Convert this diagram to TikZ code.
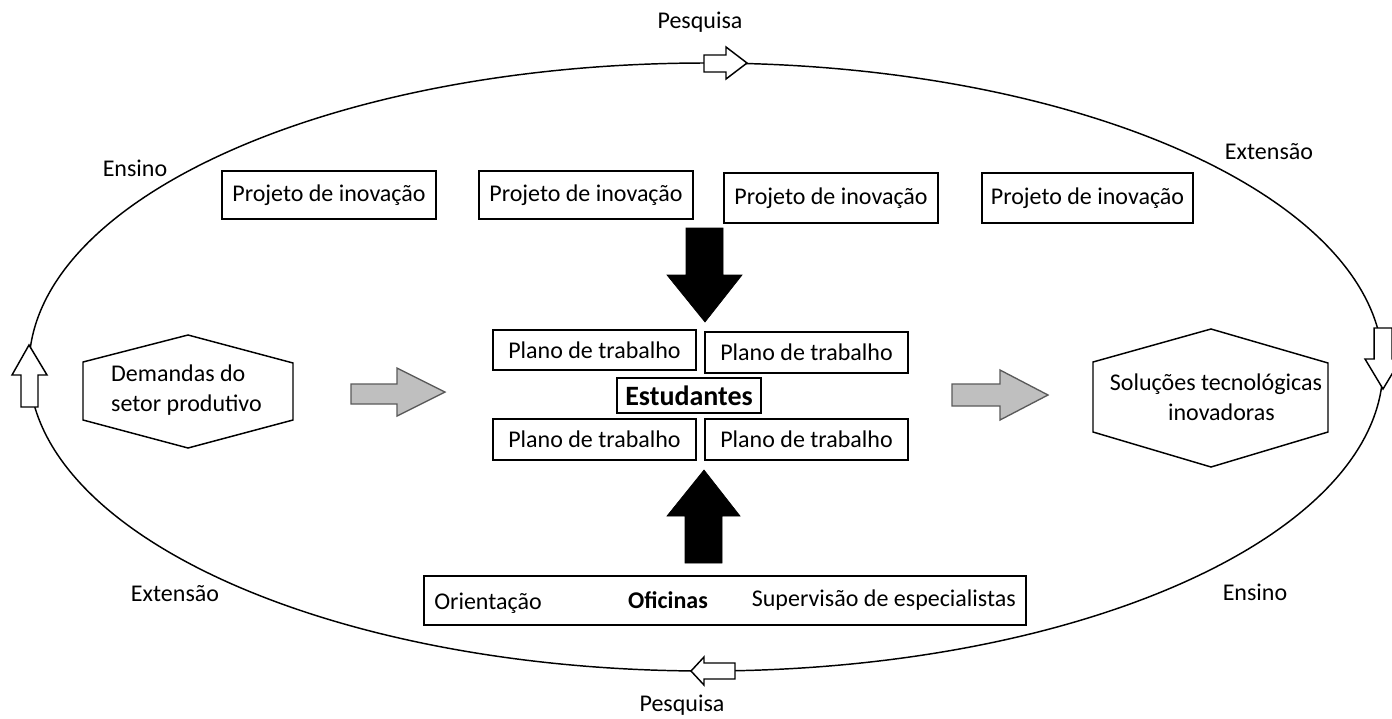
\documentclass[tikz,border=0pt]{standalone}
\usepackage{fontspec}
\setmainfont{Carlito}
\definecolor{greyfill}{RGB}{191,191,191}
\definecolor{greyline}{RGB}{90,90,90}
\begin{document}
\begin{tikzpicture}[x=0.75pt,y=-0.75pt,line join=miter,
  txt/.style={font=\fontsize{18}{22.5}\selectfont,inner sep=0pt},
  pbox/.style={draw,fill=white,line width=1.1pt,inner sep=0pt,font=\fontsize{18}{22.5}\selectfont},
  hollow/.style={draw,fill=white,line width=1.1pt},
  solid arrow/.style={fill=black,draw=black,line width=0.5pt},
  grey arrow/.style={fill=greyfill,draw=greyline,line width=1pt},
  hexa/.style={draw,line width=1.1pt}]
\clip (0,0) rectangle (1392,718);
\useasboundingbox (0,0) rectangle (1392,718);
\fill[white] (0,0) rectangle (1392,718);

% outer cycle
\draw[line width=1.1pt] (706,367) ellipse [x radius=677, y radius=304];

% hollow arrows on the cycle
\draw[hollow] (29,345) -- (47,375) -- (38,375) -- (38,407) -- (21,407) -- (21,375) -- (12,375) -- cycle;
\draw[hollow] (1383,389) -- (1365,359) -- (1374,359) -- (1374,328) -- (1392,328) -- (1392,359) -- (1401,359) -- cycle;
\draw[hollow] (747,63) -- (726,47) -- (726,55) -- (704,55) -- (704,72) -- (726,72) -- (726,79) -- cycle;
\draw[hollow] (691,671) -- (704,657) -- (704,663) -- (735,663) -- (735,679) -- (704,679) -- (704,685) -- cycle;

% cycle labels
\node[txt] (pesqtop) at (700,22) {Pesquisa};
\node[txt] (pesqbot) at (682,705) {Pesquisa};
\node[txt] (enstl) at (135,168) {Ensino};
\node[txt] (exttr) at (1269,152) {Extensão};
\node[txt] (extbl) at (175,594) {Extensão};
\node[txt] (ensbr) at (1255,592) {Ensino};

% project boxes
\node[pbox,minimum width=160.5pt,minimum height=36pt] (proj1) at (329,195) {Projeto de inovação};
\node[pbox,minimum width=160.5pt,minimum height=36pt] (proj2) at (586,195) {Projeto de inovação};
\node[pbox,minimum width=160.5pt,minimum height=37.5pt] (proj3) at (831,198) {Projeto de inovação};
\node[pbox,minimum width=158.25pt,minimum height=37.5pt] (proj4) at (1087.5,198) {Projeto de inovação};

% black arrows
\draw[solid arrow] (686,228) -- (723,228) -- (723,275) -- (742,275) -- (705,322) -- (667,275) -- (686,275) -- cycle;
\draw[solid arrow] (685,563) -- (722,563) -- (722,516) -- (740,516) -- (704,470) -- (667,516) -- (685,516) -- cycle;

% work plans
\node[pbox,minimum width=152.25pt,minimum height=30pt] (plan1) at (594.5,350) {Plano de trabalho};
\node[pbox,minimum width=152.25pt,minimum height=30.75pt] (plan2) at (806.5,352.5) {Plano de trabalho};
\node[pbox,minimum width=152.25pt,minimum height=30.75pt] (plan3) at (594.5,439.5) {Plano de trabalho};
\node[pbox,minimum width=152.25pt,minimum height=30.75pt] (plan4) at (806.5,439.5) {Plano de trabalho};
\node[draw,line width=2pt,inner sep=0pt,minimum width=108pt,minimum height=26.25pt,font=\fontsize{21}{25}\selectfont\bfseries] (estud) at (689,395.5) {Estudantes};

% grey arrows
\draw[grey arrow] (351,384) -- (397,384) -- (397,368) -- (445,392) -- (397,416) -- (397,404) -- (351,404) -- cycle;
\draw[grey arrow] (952,384) -- (1000,384) -- (1000,370) -- (1048,395) -- (1000,420) -- (1000,406) -- (952,406) -- cycle;

% hexagons
\draw[hexa] (188,335) -- (293,363) -- (293,420) -- (188,448) -- (83,420) -- (83,362) -- cycle;
\node[txt,align=left] (demandas) at (186.5,390) {Demandas do\\setor produtivo};
\draw[hexa] (1211,329) -- (1328,363) -- (1328,432) -- (1211,467) -- (1093,432) -- (1093,362) -- cycle;
\node[txt,align=center] (solucoes) at (1216,397) {Soluções tecnológicas\\\ \ inovadoras};

% workshops
\node[draw,fill=white,line width=1.1pt,minimum width=451.5pt,minimum height=36.75pt,inner sep=0pt] (oficinas) at (725,600.5) {};
\node[txt,anchor=west] (orient) at (434,603) {Orientação};
\node[txt,font=\fontsize{18}{22.5}\selectfont\bfseries] (ofic) at (668,600) {Oficinas};
\node[txt,anchor=east] (superv) at (1016,600) {Supervisão de especialistas};
\end{tikzpicture}
\end{document}
